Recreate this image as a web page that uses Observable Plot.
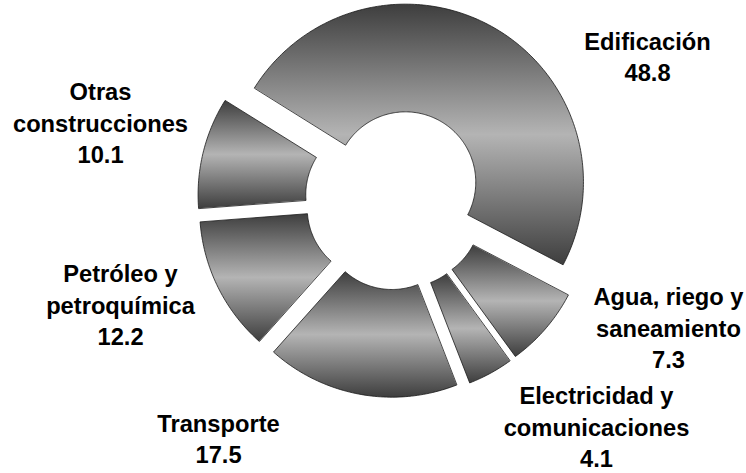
<!DOCTYPE html>
<html><head><meta charset="utf-8">
<script src="https://cdn.jsdelivr.net/npm/d3@7"></script>
<script src="https://cdn.jsdelivr.net/npm/@observablehq/plot@0.6"></script>
<style>html,body{margin:0;padding:0;background:#fff}</style>
</head><body><div id="chart"></div>
<script>
// ---- data ----
const categories = ["Edificación", "Agua, riego y saneamiento", "Electricidad y comunicaciones", "Transporte", "Petróleo y petroquímica", "Otras construcciones"];
const values = [48.8, 7.3, 4.1, 17.5, 12.2, 10.1];
const labelLines = [["Edificación"], ["Agua, riego y", "saneamiento"], ["Electricidad y", "comunicaciones"], ["Transporte"], ["Petróleo y", "petroquímica"], ["Otras", "construcciones"]];
const valueLabels = ["48.8", "7.3", "4.1", "17.5", "12.2", "10.1"];

// ---- layout ----
const W = 746, H = 473, cx = 395, cy = 199, R = 178;
const innerRatio = 0.395, explode = 20 / R;
const startDeg = -58;
const labelCenters = [[647, 55], [668, 326], [596, 425], [218, 437], [120, 303], [100, 121]];

const a0 = startDeg * Math.PI / 180;
const arcs = d3.pie().sort(null).startAngle(a0).endAngle(a0 + 2 * Math.PI)(values);
const pts = [];
arcs.forEach((p, i) => {
  const mid = (p.startAngle + p.endAngle) / 2;
  const ox = explode * Math.sin(mid), oy = explode * Math.cos(mid);
  const n = Math.max(4, Math.ceil((p.endAngle - p.startAngle) * 180 / Math.PI));
  for (let k = 0; k <= n; k++) {
    const a = p.startAngle + (p.endAngle - p.startAngle) * k / n;
    pts.push({cat: categories[i], x: ox + Math.sin(a), y: oy + Math.cos(a)});
  }
  for (let k = n; k >= 0; k--) {
    const a = p.startAngle + (p.endAngle - p.startAngle) * k / n;
    pts.push({cat: categories[i], x: ox + innerRatio * Math.sin(a), y: oy + innerRatio * Math.cos(a)});
  }
});
const labels = categories.map((c, i) => ({
  x: (labelCenters[i][0] - cx) / R,
  y: (cy - labelCenters[i][1]) / R,
  text: labelLines[i].concat([valueLabels[i]]).join("\n")
}));

const defsMark = () => {
  const defs = d3.create("svg:defs");
  const g = defs.append("linearGradient").attr("id", "shade")
    .attr("x1", 0).attr("y1", 0).attr("x2", 0).attr("y2", 1);
  g.append("stop").attr("offset", "0%").attr("stop-color", "#3e3e3e");
  g.append("stop").attr("offset", "50%").attr("stop-color", "#b4b4b4");
  g.append("stop").attr("offset", "100%").attr("stop-color", "#3e3e3e");
  return defs.node();
};

const chart = Plot.plot({
  width: W, height: H, margin: 0,
  x: {domain: [-cx / R, (W - cx) / R], axis: null},
  y: {domain: [-(H - cy) / R, cy / R], axis: null},
  style: {background: "#fff"},
  marks: [
    defsMark,
    Plot.line(pts, {x: "x", y: "y", z: "cat", curve: "linear-closed", fill: "url(#shade)", stroke: "#1a1a1a", strokeWidth: 0.8}),
    Plot.text(labels, {x: "x", y: "y", text: "text", fontSize: 23.7, fontWeight: "bold", fontFamily: "'Liberation Sans', Arial, sans-serif", lineHeight: 1.33, lineAnchor: "middle", textAnchor: "middle", fill: "#000"})
  ]
});
document.getElementById("chart").appendChild(chart);
</script>
</body></html>
